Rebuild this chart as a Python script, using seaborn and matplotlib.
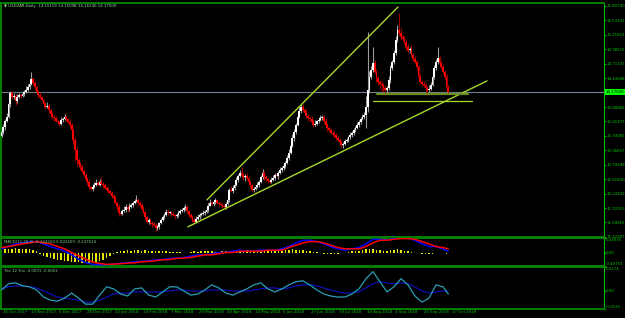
import numpy as np
import matplotlib
matplotlib.use("Agg")
import matplotlib.pyplot as plt
import matplotlib.transforms as mtrans
import seaborn as sns

# USDZAR daily closes (one row per 16 bars)
closes = [
    13.42, 13.51, 13.63, 13.70, 13.95, 14.16, 14.08, 14.10, 14.00, 14.08, 14.12, 14.10, 14.15, 14.18, 14.22, 14.27,
    14.33, 14.42, 14.35, 14.27, 14.18, 14.12, 14.08, 14.02, 13.95, 13.89, 13.92, 13.83, 13.76, 13.70, 13.68, 13.63,
    13.60, 13.57, 13.64, 13.66, 13.70, 13.66, 13.61, 13.55, 13.45, 13.27, 13.08, 12.89, 12.82, 12.75, 12.68, 12.60,
    12.52, 12.47, 12.37, 12.34, 12.38, 12.41, 12.45, 12.42, 12.47, 12.44, 12.41, 12.36, 12.32, 12.29, 12.26, 12.21,
    12.16, 12.08, 11.99, 11.88, 11.86, 11.91, 11.94, 11.99, 11.95, 11.99, 12.03, 12.07, 12.10, 12.13, 12.08, 12.03,
    11.96, 11.90, 11.80, 11.71, 11.74, 11.69, 11.67, 11.65, 11.60, 11.61, 11.69, 11.74, 11.80, 11.84, 11.90, 11.88,
    11.88, 11.86, 11.84, 11.82, 11.84, 11.88, 11.91, 11.94, 11.97, 11.99, 11.92, 11.84, 11.80, 11.75, 11.71, 11.77,
    11.80, 11.84, 11.86, 11.88, 11.90, 11.94, 12.02, 12.07, 12.05, 12.09, 12.12, 12.07, 12.05, 12.03, 12.01, 11.99,
    12.05, 12.13, 12.32, 12.30, 12.36, 12.41, 12.51, 12.58, 12.64, 12.60, 12.56, 12.58, 12.54, 12.47, 12.41, 12.32,
    12.34, 12.37, 12.42, 12.47, 12.56, 12.64, 12.56, 12.52, 12.49, 12.47, 12.51, 12.55, 12.60, 12.58, 12.64, 12.69,
    12.73, 12.78, 12.83, 12.92, 13.02, 13.15, 13.30, 13.42, 13.55, 13.70, 13.82, 13.90, 13.84, 13.78, 13.72, 13.68,
    13.66, 13.60, 13.55, 13.58, 13.62, 13.64, 13.68, 13.70, 13.62, 13.55, 13.50, 13.45, 13.40, 13.38, 13.36, 13.30,
    13.27, 13.22, 13.17, 13.20, 13.24, 13.27, 13.32, 13.36, 13.40, 13.45, 13.50, 13.55, 13.60, 13.66, 13.70, 13.74,
    13.89, 14.21, 14.46, 14.59, 14.73, 14.56, 14.44, 14.37, 14.33, 14.31, 14.25, 14.22, 14.25, 14.40, 14.63, 14.75,
    14.92, 15.16, 15.35, 15.30, 15.22, 15.18, 15.12, 15.03, 14.97, 15.00, 14.88, 14.80, 14.75, 14.65, 14.46, 14.37,
    14.34, 14.31, 14.25, 14.21, 14.24, 14.31, 14.46, 14.63, 14.75, 14.82, 14.73, 14.65, 14.56, 14.46, 14.27, 14.175,
]
first_open = 13.35
# upper / lower shadows in hundredths
wick_up = [
    4, 6, 3, 8, 5, 4, 3, 6, 4, 5, 3, 2, 4, 3, 6, 5,
    5, 13, 4, 3, 2, 3, 5, 2, 3, 4, 6, 3, 2, 3, 5, 4,
    3, 2, 5, 4, 6, 3, 2, 5, 3, 2, 4, 6, 3, 2, 5, 3,
    4, 3, 5, 2, 4, 6, 8, 3, 5, 9, 3, 4, 2, 5, 3, 4,
    3, 4, 2, 5, 3, 4, 6, 5, 3, 8, 4, 3, 5, 9, 4, 3,
    3, 4, 2, 3, 5, 2, 3, 4, 3, 4, 2, 5, 3, 4, 6, 3,
    4, 3, 5, 2, 4, 6, 5, 3, 4, 5, 3, 2, 4, 3, 5, 4,
    5, 3, 4, 6, 3, 4, 5, 8, 4, 3, 5, 2, 3, 4, 3, 4,
    4, 5, 3, 6, 4, 3, 5, 4, 6, 10, 4, 3, 5, 3, 4, 2,
    3, 4, 5, 3, 4, 8, 3, 4, 2, 3, 5, 4, 3, 6, 4, 5,
    4, 5, 3, 6, 8, 5, 7, 6, 4, 5, 6, 5, 4, 3, 5, 4,
    3, 5, 4, 6, 3, 4, 5, 3, 4, 6, 3, 2, 4, 3, 5, 3,
    4, 3, 5, 3, 4, 3, 2, 5, 3, 4, 3, 5, 4, 3, 6, 5,
    20, 111, 12, 8, 30, 5, 6, 4, 3, 5, 4, 6, 3, 8, 5, 4,
    6, 8, 10, 32, 8, 5, 6, 4, 5, 3, 6, 4, 5, 3, 4, 6,
    4, 5, 3, 4, 6, 5, 4, 6, 5, 21, 4, 3, 5, 4, 6, 3,
]
wick_dn = [
    3, 4, 5, 3, 2, 6, 4, 3, 8, 3, 2, 4, 3, 5, 2, 3,
    3, 2, 4, 5, 3, 6, 3, 4, 5, 3, 2, 5, 4, 3, 6, 3,
    4, 5, 3, 4, 2, 5, 3, 6, 4, 8, 20, 12, 6, 5, 4, 3,
    3, 6, 4, 3, 5, 2, 3, 4, 3, 2, 5, 3, 4, 3, 2, 5,
    4, 3, 5, 6, 4, 3, 2, 4, 5, 3, 2, 4, 3, 2, 5, 4,
    5, 4, 6, 3, 5, 4, 6, 3, 7, 5, 4, 3, 2, 4, 3, 5,
    3, 4, 2, 5, 3, 4, 3, 2, 4, 3, 5, 4, 3, 5, 4, 3,
    3, 4, 2, 3, 5, 3, 4, 2, 3, 5, 4, 3, 4, 2, 3, 4,
    3, 2, 4, 3, 5, 4, 3, 5, 3, 4, 6, 8, 4, 3, 5, 4,
    4, 3, 2, 5, 3, 4, 6, 3, 4, 5, 3, 2, 4, 3, 5, 3,
    3, 4, 5, 3, 4, 2, 3, 5, 4, 3, 2, 4, 5, 3, 4, 6,
    4, 3, 5, 2, 4, 3, 2, 4, 5, 3, 6, 4, 3, 5, 4, 3,
    3, 5, 4, 6, 3, 2, 4, 3, 5, 4, 3, 2, 4, 3, 2, 4,
    25, 10, 6, 4, 3, 5, 8, 6, 10, 12, 8, 6, 4, 3, 5, 4,
    5, 4, 3, 6, 5, 4, 3, 8, 5, 6, 4, 3, 5, 6, 8, 4,
    5, 4, 8, 10, 4, 3, 2, 4, 3, 5, 6, 4, 5, 3, 4, 2,
]
bid = 14.175

# hand-drawn objects (bar index, price)
upper_line_x = [117.3, 226.3]
upper_line_y = [12.126, 15.788]
lower_line_x = [106.4, 277.1]
lower_line_y = [11.614, 14.384]
level1_x = [214.3, 266.3]
level1_y = [14.138, 14.138]
level2_x = [212.0, 268.5]
level2_y = [14.005, 14.005]

# MACD panel (sampled every 4 bars + last bar)
macd_blue = [0.11, 0.18, 0.26, 0.29, 0.33, 0.33, 0.26, 0.18, 0.11, 0.04,
             -0.07, -0.20, -0.30, -0.36, -0.37, -0.37, -0.35, -0.32, -0.31, -0.28,
             -0.27, -0.25, -0.22, -0.21, -0.18, -0.17, -0.15, -0.11, -0.07, -0.07,
             -0.04, 0.00, 0.00, 0.04, 0.07, 0.04, 0.04, 0.07, 0.07, 0.07,
             0.11, 0.18, 0.29, 0.37, 0.37, 0.33, 0.26, 0.18, 0.11, 0.07,
             0.11, 0.15, 0.26, 0.40, 0.40, 0.37, 0.43, 0.45, 0.43, 0.37,
             0.26, 0.18, 0.18, 0.11, 0.04]
macd_red = [0.15, 0.18, 0.22, 0.26, 0.29, 0.33, 0.29, 0.26, 0.18, 0.11,
            0.00, -0.10, -0.20, -0.29, -0.33, -0.36, -0.35, -0.34, -0.32, -0.31,
            -0.28, -0.27, -0.25, -0.22, -0.21, -0.18, -0.17, -0.15, -0.11, -0.07,
            -0.07, -0.04, 0.00, 0.00, 0.04, 0.04, 0.04, 0.04, 0.07, 0.07,
            0.07, 0.15, 0.22, 0.29, 0.33, 0.33, 0.29, 0.22, 0.15, 0.11,
            0.11, 0.11, 0.18, 0.29, 0.37, 0.37, 0.40, 0.42, 0.42, 0.40,
            0.33, 0.26, 0.18, 0.15, 0.11]
# histogram, every 2 bars
macd_hist = [0.10, 0.12, 0.10, 0.12, 0.14, 0.12, 0.10, 0.12, 0.10, 0.08,
             0.04, -0.06, -0.10, -0.14, -0.18, -0.20, -0.22, -0.24, -0.25, -0.26,
             -0.28, -0.30, -0.30, -0.32, -0.33, -0.32, -0.30, -0.28, -0.26, -0.22,
             -0.16, -0.10, -0.05, 0.02, 0.05, 0.06, 0.07, 0.06, 0.08, 0.07,
             0.06, 0.07, 0.05, 0.06, 0.04, 0.05, 0.06, 0.04, 0.03, 0.02,
             0.02, 0.01, -0.01, -0.02, 0.02, 0.04, 0.03, 0.05, 0.06, 0.04,
             0.05, 0.03, 0.02, 0.04, 0.06, 0.05, 0.03, 0.02, 0.04, 0.06,
             0.07, 0.06, 0.05, 0.04, 0.06, 0.07, 0.08, 0.06, 0.05, 0.04,
             0.05, 0.07, 0.09, 0.10, 0.09, 0.08, 0.07, 0.06, 0.04, 0.02,
             0.01, -0.02, -0.04, -0.05, -0.06, -0.05, -0.04, -0.02, -0.01, 0.02,
             0.04, 0.05, 0.06, 0.08, 0.10, 0.12, 0.10, 0.09, 0.08, 0.06,
             0.05, 0.07, 0.09, 0.10, 0.08, 0.06, 0.04, 0.02, 0.00, -0.02,
             -0.04, -0.05, -0.06, -0.04, -0.03, -0.02, -0.03, -0.04]

# Trix panel (sampled every 4 bars + last bar)
trix_fast = [0.0007, 0.0052, 0.0059, 0.0037, 0.0030, 0.0007, -0.0044, -0.0067, -0.0074, -0.0052,
             -0.0015, -0.0052, -0.0096, -0.0096, -0.0030, 0.0030, 0.0015, -0.0022, -0.0037, 0.0015,
             0.0022, -0.0030, -0.0044, -0.0007, 0.0030, 0.0030, 0.0000, -0.0030, -0.0022, 0.0007,
             0.0044, 0.0022, -0.0015, -0.0030, -0.0007, 0.0015, 0.0044, 0.0059, 0.0015, -0.0007,
             0.0015, 0.0044, 0.0067, 0.0074, 0.0044, 0.0007, -0.0022, -0.0037, -0.0044, -0.0044,
             -0.0022, 0.0015, 0.0089, 0.0141, 0.0067, -0.0007, 0.0030, 0.0089, 0.0044, -0.0037,
             -0.0081, -0.0052, 0.0044, 0.0030, -0.0022]
trix_slow = [0.0015, 0.0030, 0.0037, 0.0037, 0.0030, 0.0022, 0.0000, -0.0022, -0.0044, -0.0052,
             -0.0059, -0.0067, -0.0081, -0.0081, -0.0067, -0.0044, -0.0022, -0.0015, -0.0015, -0.0007,
             -0.0007, -0.0007, -0.0007, -0.0007, 0.0000, 0.0007, 0.0007, 0.0000, 0.0000, 0.0000,
             0.0007, 0.0007, 0.0007, 0.0000, 0.0000, 0.0000, 0.0007, 0.0015, 0.0022, 0.0022,
             0.0015, 0.0022, 0.0037, 0.0044, 0.0044, 0.0037, 0.0022, 0.0007, -0.0007, -0.0015,
             -0.0015, -0.0007, 0.0022, 0.0052, 0.0067, 0.0059, 0.0052, 0.0059, 0.0052, 0.0030,
             0.0000, -0.0015, -0.0007, 0.0000, 0.0000]

date_labels = ["26 Oct 2017", "13 Nov 2017", "5 Dec 2017", "28 Dec 2017", "22 Jan 2018",
               "13 Feb 2018", "7 Mar 2018", "29 Mar 2018", "20 Apr 2018", "14 May 2018",
               "5 Jun 2018", "27 Jun 2018", "19 Jul 2018", "10 Aug 2018", "3 Sep 2018",
               "25 Sep 2018", "17 Oct 2018"]
price_ticks = [15.80740, 15.53332, 15.25923, 14.98515, 14.71107, 14.43698, 13.88882, 13.61473,
               13.34065, 13.06657, 12.79248, 12.51840, 12.24432, 11.97023, 11.69615, 11.42207]
macd_ticks = [0.43835, 0.0, -0.40791]
macd_tick_labels = ["0.43835", "0.00", "-0.40791"]
trix_ticks = [0.0174, 0.0, -0.0131]
trix_tick_labels = ["0.0174", "0.00", "-0.0131"]

header = "\u25bc USDZAR,Daily  14.15119 14.15098 14.16240 14.17500"
macd_title = "MACD(12,26,9) -0.244204 0.003409 -0.247614"
trix_title = "Trix 12 Trix -0.0091 -0.0053"

sns.set_style("dark", {"axes.facecolor": "black", "figure.facecolor": "black",
                       "axes.grid": False})
plt.rcParams["font.family"] = ["DejaVu Sans"]

GREEN = "#00C800"
FRAME = "#008000"
FS = 2.8

W, H = 625, 318
fig = plt.figure(figsize=(6.25, 3.18), dpi=100)


def px_axes(x0, y0, x1, y1):
    return fig.add_axes([x0 / W, 1 - y1 / H, (x1 - x0) / W, (y1 - y0) / H])


ax = px_axes(1, 3, 604, 237)
ax_macd = px_axes(1, 238, 604, 266)
ax_trix = px_axes(1, 267, 604, 309)

xlim = (-0.3, -0.3 + 603 / 1.752)

# candles
c = np.array(closes)
o = np.r_[first_open, c[:-1]]
hi = np.maximum(o, c) + np.array(wick_up) / 100
lo = np.minimum(o, c) - np.array(wick_dn) / 100
idx = np.arange(len(c))
bull = c >= o
wick_col = np.where(bull, "#9a9a9a", "#a00000")
body_col = np.where(bull, "#ffffff", "#ff0000")
ax.vlines(idx, lo, hi, colors=wick_col, lw=0.8, zorder=2)
ax.bar(idx, np.maximum(np.abs(c - o), 0.02), bottom=np.minimum(o, c) - 0.005,
       width=1.05, color=body_col, linewidth=0, zorder=3)

ax.axhline(bid, color="#6f7f8f", lw=0.8, zorder=1)
ax.plot(upper_line_x, upper_line_y, color="#a6d82a", lw=1.0, zorder=4)
ax.plot(lower_line_x, lower_line_y, color="#a6d82a", lw=1.0, zorder=4)
ax.plot(level1_x, level1_y, color="#6b8e1f", lw=1.6, zorder=4)
ax.plot(level2_x, level2_y, color="#a6d82a", lw=0.9, zorder=4)

ax.set_xlim(*xlim)
ax.set_ylim(11.42, 15.864)
ax.set_yticks(price_ticks)
ax.set_yticklabels([f"{v:.5f}" for v in price_ticks])
ax.text(1 + 2 / 603, bid, f"{bid:.5f}", transform=mtrans.blended_transform_factory(ax.transAxes, ax.transData),
        ha="left", va="center", fontsize=FS, color="black", zorder=10, clip_on=False,
        bbox=dict(boxstyle="square,pad=0.25", fc="#00ff00", ec="none"))

# MACD
sample_idx = np.r_[np.arange(0, 256, 4), 255]
hist_idx = np.arange(0, 256, 2)
ax_macd.bar(hist_idx, macd_hist, width=0.9, color="#e6e600", linewidth=0, zorder=2)
sns.lineplot(x=sample_idx, y=macd_blue, ax=ax_macd, color="#0000ff", lw=1.1, zorder=3)
sns.lineplot(x=sample_idx, y=macd_red, ax=ax_macd, color="#ff0000", lw=1.1, zorder=4)
ax_macd.set_xlim(*xlim)
ax_macd.set_ylim(-0.40791, 0.43835)
ax_macd.set_yticks(macd_ticks)
ax_macd.set_yticklabels(macd_tick_labels)

# Trix
sns.lineplot(x=sample_idx, y=trix_slow, ax=ax_trix, color="#1010c8", lw=0.8, zorder=3)
sns.lineplot(x=sample_idx, y=trix_fast, ax=ax_trix, color="#2a9db5", lw=0.9, zorder=4)
ax_trix.set_xlim(*xlim)
ax_trix.set_ylim(-0.0131, 0.0174)
ax_trix.set_yticks(trix_ticks)
ax_trix.set_yticklabels(trix_tick_labels)

for a in (ax, ax_macd, ax_trix):
    a.set_facecolor("black")
    a.set_xlabel("")
    a.set_ylabel("")
    a.yaxis.tick_right()
    a.tick_params(axis="y", colors=GREEN, labelsize=FS, length=1.2, width=0.6, pad=0.4,
                  labelcolor=GREEN)
    for s in ("top", "bottom", "left"):
        a.spines[s].set_color(FRAME)
        a.spines[s].set_linewidth(1.4)
        a.spines[s].set_visible(True)
    a.spines["right"].set_color("#00c000")
    a.spines["right"].set_linewidth(0.8)
    a.spines["right"].set_visible(True)
    if a is not ax_trix:
        a.set_xticks([])

for a in (ax_macd, ax_trix):
    labs = a.get_yticklabels()
    labs[0].set_va("top")
    labs[-1].set_va("bottom")

ax_trix.set_xticks(np.arange(0, 16 * len(date_labels), 16))
ax_trix.set_xticklabels(date_labels, ha="left")
ax_trix.tick_params(axis="x", colors=GREEN, labelsize=FS, length=8, width=0.6,
                    direction="out", pad=-7, labelcolor=GREEN)
shift = mtrans.ScaledTranslation(1.5 / 100, 0, fig.dpi_scale_trans)
for lbl in ax_trix.get_xticklabels():
    lbl.set_transform(lbl.get_transform() + shift)

fig.text(4 / W, 1 - 6 / H, header, fontsize=FS, color="#9fdc9f", va="center")
fig.text(4 / W, 1 - 242 / H, macd_title, fontsize=FS, color="#7fd07f", va="center")
fig.text(4 / W, 1 - 271 / H, trix_title, fontsize=FS, color="#7fd07f", va="center")

fig.savefig("out.png", dpi=100, facecolor="black")
